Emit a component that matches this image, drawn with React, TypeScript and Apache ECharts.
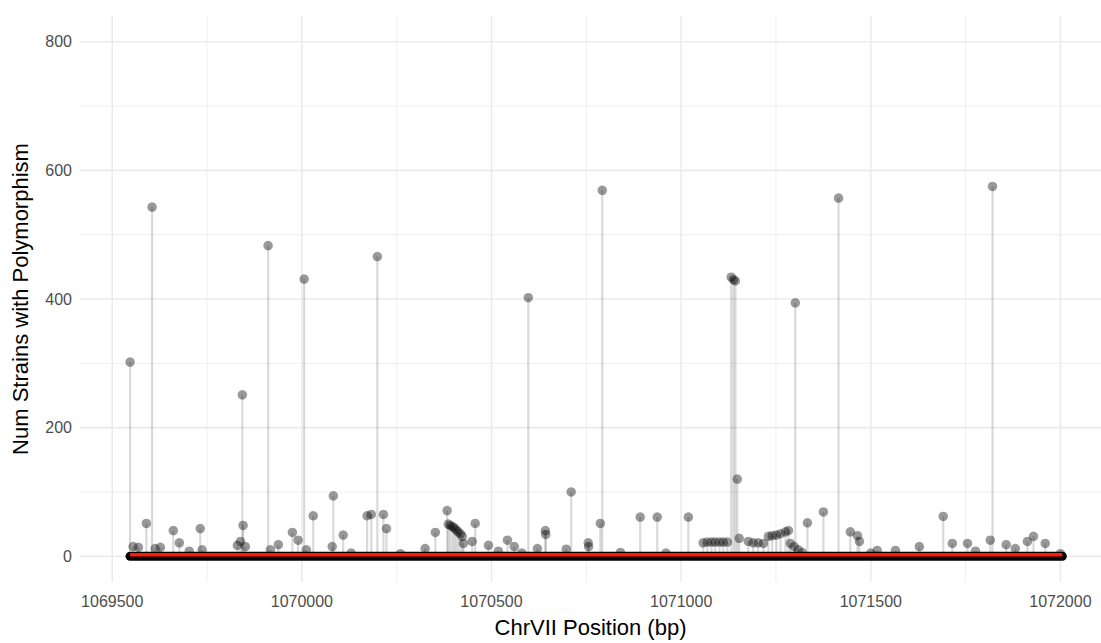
import React, { useEffect, useRef } from "react";
import * as echarts from "echarts";

// Positions (bp) and number of strains with a polymorphism at each
const positions: number[] = [
  1069547, 1069555, 1069569, 1069590, 1069605, 1069613, 1069627, 1069661, 1069677, 1069703,
  1069732, 1069737, 1069830, 1069838, 1069843, 1069845, 1069851, 1069911, 1069917, 1069938,
  1069975, 1069990, 1070006, 1070012, 1070030, 1070080, 1070083, 1070109, 1070130, 1070172,
  1070183, 1070199, 1070215, 1070223, 1070260, 1070325, 1070352, 1070383, 1070386, 1070391,
  1070397, 1070402, 1070407, 1070412, 1070418, 1070423, 1070426, 1070449, 1070457, 1070492,
  1070518, 1070542, 1070560, 1070580, 1070597, 1070621, 1070642, 1070643, 1070697, 1070710,
  1070755, 1070756, 1070787, 1070792, 1070840, 1070892, 1070937, 1070960, 1071019, 1071058,
  1071069, 1071080, 1071090, 1071101, 1071111, 1071122, 1071132, 1071138, 1071143, 1071148,
  1071153, 1071177, 1071190, 1071203, 1071217, 1071230, 1071240, 1071251, 1071262, 1071275,
  1071283, 1071288, 1071298, 1071301, 1071309, 1071319, 1071333, 1071375, 1071415, 1071446,
  1071465, 1071470, 1071500, 1071517, 1071565, 1071628, 1071691, 1071715, 1071755, 1071776,
  1071815, 1071821, 1071857, 1071881, 1071913, 1071929, 1071960, 1072000,
];
const strainCounts: number[] = [
  302, 15, 14, 51, 543, 12, 14, 40, 21, 8,
  43, 10, 17, 23, 251, 48, 15, 483, 10, 18,
  37, 25, 431, 10, 63, 15, 94, 33, 5, 63,
  65, 466, 65, 43, 4, 12, 37, 71, 50, 48,
  46, 44, 41, 38, 35, 31, 20, 23, 51, 17,
  8, 25, 15, 5, 402, 12, 40, 34, 11, 100,
  21, 15, 51, 569, 6, 61, 61, 5, 61, 21,
  22, 22, 22, 22, 22, 22, 434, 430, 428, 120,
  28, 23, 21, 21, 20, 31, 32, 33, 35, 38,
  40, 20, 15, 394, 10, 6, 52, 69, 557, 38,
  32, 23, 5, 9, 9, 15, 62, 20, 20, 8,
  25, 575, 18, 12, 23, 31, 20, 4,
];

// Range of sequenced positions (all zero-count sites lie along this span)
const baseStart = 1069547;
const baseEnd = 1072005;
const redLevel = 2.5;

const xMajorTicks: number[] = [1069500, 1070000, 1070500, 1071000, 1071500, 1072000];
const xMinorTicks: number[] = [1069750, 1070250, 1070750, 1071250, 1071750];
const yMajorTicks: number[] = [0, 200, 400, 600, 800];
const yMinorTicks: number[] = [100, 300, 500, 700];

const X_MIN = 1069415;
const X_MAX = 1072107;
const Y_MIN = -40;
const Y_MAX = 840;

export default function App() {
  const ref = useRef<HTMLDivElement>(null);
  useEffect(() => {
    if (!ref.current) return;
    document.body.style.margin = "0";
    const chart = echarts.init(ref.current, undefined, { renderer: "svg" });

    const gridColor = "#ebebeb";
    const vGrid = [
      ...xMajorTicks.map((v) => [v, 0, 1.6]),
      ...xMinorTicks.map((v) => [v, 0, 0.8]),
    ];
    const hGrid = [
      ...yMajorTicks.map((v) => [1069500, v, 1.6]),
      ...yMinorTicks.map((v) => [1069500, v, 0.8]),
    ];
    const pts = positions.map((p, i) => [p, strainCounts[i]]);

    chart.setOption({
      animation: false,
      grid: { left: 80, right: 0, top: 16, bottom: 54 },
      xAxis: {
        type: "value",
        min: X_MIN,
        max: X_MAX,
        splitLine: { show: false },
        axisLine: { show: false },
        axisTick: { show: false },
        axisLabel: {
          customValues: xMajorTicks,
          formatter: (v: number) => String(v),
          color: "#4d4d4d",
          fontSize: 16,
          fontFamily: "Liberation Sans, Arial, sans-serif",
          margin: 11,
        },
        name: "ChrVII Position (bp)",
        nameLocation: "middle",
        nameGap: 34,
        nameTextStyle: {
          color: "#000",
          fontSize: 22,
          fontFamily: "Liberation Sans, Arial, sans-serif",
        },
      },
      yAxis: {
        type: "value",
        min: Y_MIN,
        max: Y_MAX,
        splitLine: { show: false },
        axisLine: { show: false },
        axisTick: { show: false },
        axisLabel: {
          customValues: yMajorTicks,
          formatter: (v: number) => String(v),
          color: "#4d4d4d",
          fontSize: 16,
          fontFamily: "Liberation Sans, Arial, sans-serif",
          margin: 8,
        },
        name: "Num Strains with Polymorphism",
        nameLocation: "middle",
        nameGap: 49,
        nameTextStyle: {
          color: "#000",
          fontSize: 22,
          fontFamily: "Liberation Sans, Arial, sans-serif",
        },
      },
      series: [
        {
          type: "custom",
          z: 0,
          silent: true,
          data: vGrid,
          renderItem: (params: any, api: any) => {
            const x = api.coord([api.value(0), 0])[0];
            const cs = params.coordSys;
            return {
              type: "line",
              shape: { x1: x, y1: cs.y, x2: x, y2: cs.y + cs.height },
              style: { stroke: gridColor, lineWidth: api.value(2) },
            };
          },
        },
        {
          type: "custom",
          z: 0,
          silent: true,
          data: hGrid,
          renderItem: (params: any, api: any) => {
            const y = api.coord([1069500, api.value(1)])[1];
            const cs = params.coordSys;
            return {
              type: "line",
              shape: { x1: cs.x, y1: y, x2: cs.x + cs.width, y2: y },
              style: { stroke: gridColor, lineWidth: api.value(2) },
            };
          },
        },
        {
          type: "custom",
          z: 1,
          silent: true,
          data: pts,
          renderItem: (params: any, api: any) => {
            const p0 = api.coord([api.value(0), 0]);
            const p1 = api.coord([api.value(0), api.value(1)]);
            return {
              type: "line",
              shape: { x1: p0[0], y1: p0[1], x2: p1[0], y2: p1[1] },
              style: { stroke: "rgba(0,0,0,0.15)", lineWidth: 2.2 },
            };
          },
        },
        {
          type: "line",
          z: 2,
          silent: true,
          showSymbol: false,
          data: [
            [baseStart, 0],
            [baseEnd, 0],
          ],
          lineStyle: { color: "#000", width: 9, cap: "round" },
        },
        {
          type: "scatter",
          z: 3,
          silent: true,
          data: pts,
          symbolSize: 9.5,
          itemStyle: { color: "rgba(0,0,0,0.5)" },
        },
        {
          type: "line",
          z: 4,
          silent: true,
          showSymbol: false,
          data: [
            [baseStart, redLevel],
            [baseEnd, redLevel],
          ],
          lineStyle: { color: "#ff1a00", width: 3.5 },
        },
      ],
    });
    return () => chart.dispose();
  }, []);
  return (
    <div
      ref={ref}
      style={{ position: "absolute", left: 0, top: 0, width: 1101, height: 643 }}
    />
  );
}
